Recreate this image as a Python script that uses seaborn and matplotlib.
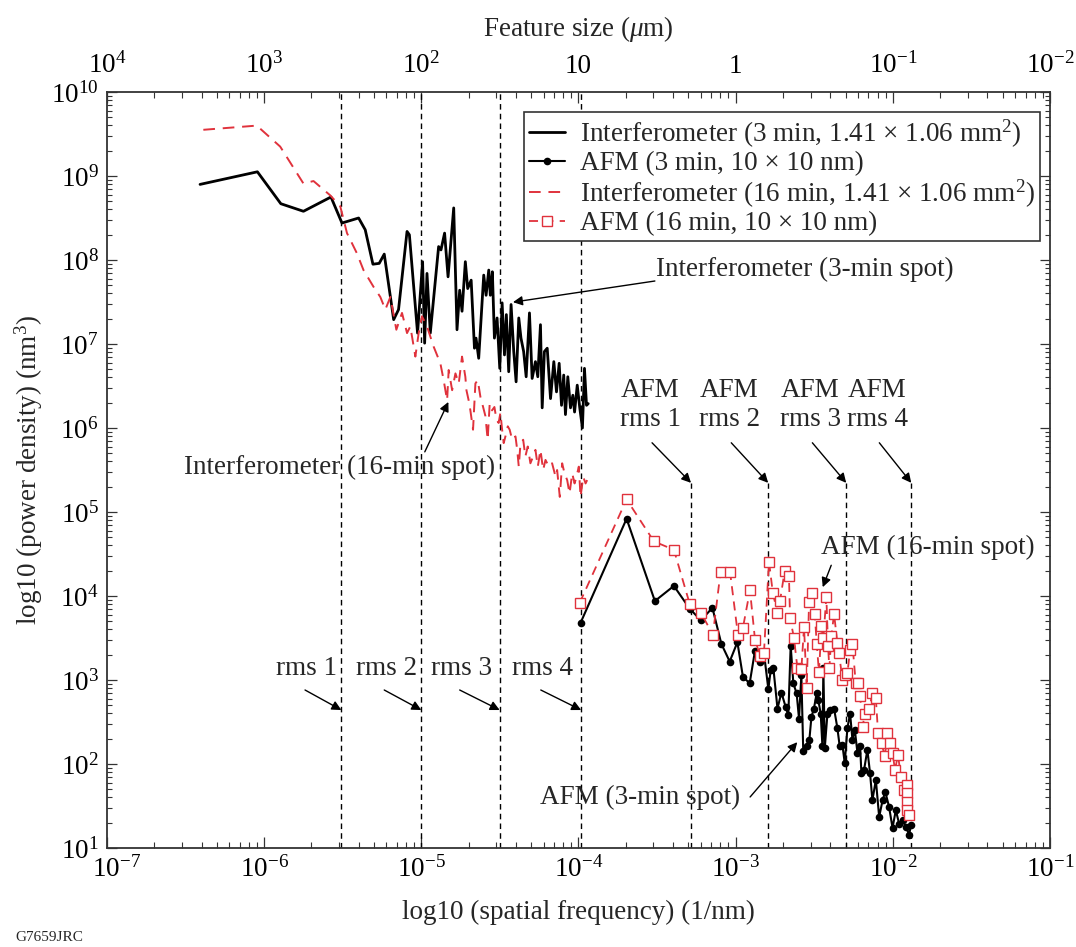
import numpy as np
import pandas as pd
import matplotlib
matplotlib.use("Agg")
import matplotlib.pyplot as plt
import matplotlib.transforms as mtransforms
import seaborn as sns
from matplotlib.ticker import (LogLocator, NullFormatter, NullLocator, FixedLocator,
                               LogFormatterMathtext)

# ---------------- data (log10 values) ----------------
interf3_logf = [-6.408, -6.043, -5.894, -5.750, -5.575, -5.505, -5.399, -5.357, -5.308, -5.268,
                -5.236, -5.176, -5.145, -5.091, -5.076, -5.024, -4.992, -4.979, -4.964, -4.943,
                -4.890, -4.875, -4.852, -4.830, -4.794, -4.773, -4.756, -4.741, -4.720, -4.705,
                -4.683, -4.662, -4.652, -4.635, -4.603, -4.588, -4.571, -4.561, -4.548, -4.535,
                -4.518, -4.501, -4.486, -4.471, -4.459, -4.444, -4.429, -4.412, -4.397, -4.380,
                -4.366, -4.349, -4.333, -4.312, -4.295, -4.274, -4.259, -4.242, -4.231, -4.217,
                -4.199, -4.178, -4.157, -4.140, -4.123, -4.108, -4.094, -4.083, -4.068, -4.051,
                -4.036, -4.025, -4.008, -3.992, -3.975, -3.962, -3.949, -3.938]
interf3_logp = [8.90, 9.05, 8.67, 8.58, 8.75, 8.44, 8.50, 8.36, 7.95, 7.96,
                8.07, 7.29, 7.41, 8.34, 8.30, 7.13, 7.98, 7.01, 7.84, 7.13,
                8.16, 8.12, 8.32, 7.80, 8.62, 7.17, 7.64, 7.39, 7.98, 7.66,
                7.76, 6.95, 7.07, 6.83, 7.82, 7.58, 7.88, 7.58, 7.86, 7.07,
                7.31, 6.71, 7.49, 6.87, 7.35, 6.67, 7.47, 6.91, 6.55, 7.31,
                7.07, 6.91, 6.61, 7.37, 6.59, 6.79, 6.61, 7.23, 6.24, 6.91,
                6.95, 6.35, 6.79, 6.43, 6.77, 6.27, 6.63, 6.16, 6.61, 6.24,
                6.39, 6.19, 6.51, 6.24, 6.00, 6.71, 6.27, 6.29]

interf16_logf = [-6.387, -6.047, -5.898, -5.750, -5.686, -5.580, -5.516, -5.473, -5.410, -5.368,
                 -5.304, -5.261, -5.229, -5.197, -5.159, -5.123, -5.091, -5.070, -5.038, -5.017,
                 -4.996, -4.964, -4.922, -4.879, -4.858, -4.836, -4.826, -4.804, -4.783, -4.762,
                 -4.741, -4.720, -4.713, -4.699, -4.688, -4.671, -4.656, -4.641, -4.624, -4.607,
                 -4.592, -4.578, -4.565, -4.550, -4.535, -4.522, -4.508, -4.497, -4.486, -4.476,
                 -4.465, -4.450, -4.438, -4.422, -4.401, -4.390, -4.380, -4.369, -4.352, -4.338,
                 -4.323, -4.306, -4.289, -4.274, -4.259, -4.242, -4.225, -4.210, -4.189, -4.168,
                 -4.146, -4.136, -4.119, -4.104, -4.089, -4.072, -4.057, -4.040, -4.025, -4.013,
                 -3.998, -3.987, -3.970, -3.955, -3.945]
interf16_logp = [9.55, 9.60, 9.35, 8.91, 8.94, 8.77, 8.64, 8.32, 8.08, 7.88,
                 7.68, 7.56, 7.41, 7.56, 7.17, 7.37, 7.13, 7.21, 6.85, 7.13,
                 7.33, 7.21, 6.97, 6.77, 6.57, 6.33, 6.69, 6.45, 6.65, 6.53,
                 6.85, 6.61, 6.45, 6.33, 6.21, 5.98, 6.53, 6.57, 6.37, 6.25,
                 6.14, 5.86, 6.29, 6.21, 6.25, 6.10, 6.06, 6.18, 5.98, 5.82,
                 5.90, 6.02, 5.98, 5.86, 5.90, 5.74, 5.54, 5.82, 5.86, 5.66,
                 5.78, 5.58, 5.66, 5.74, 5.54, 5.74, 5.50, 5.62, 5.54, 5.58,
                 5.42, 5.50, 5.18, 5.58, 5.46, 5.38, 5.22, 5.46, 5.34, 5.42,
                 5.54, 5.18, 5.42, 5.34, 5.38]

afm3_logf = [-3.987, -3.694, -3.514, -3.393, -3.293, -3.221, -3.148, -3.091, -3.038, -2.989,
             -2.954, -2.911, -2.877, -2.845, -2.820, -2.792, -2.777, -2.760, -2.734, -2.709,
             -2.682, -2.665, -2.650, -2.633, -2.612, -2.597, -2.582, -2.570, -2.549, -2.531,
             -2.518, -2.502, -2.484, -2.474, -2.459, -2.448, -2.442, -2.433, -2.416, -2.399,
             -2.374, -2.353, -2.338, -2.321, -2.306, -2.289, -2.272, -2.257, -2.242, -2.225,
             -2.208, -2.200, -2.183, -2.162, -2.145, -2.130, -2.108, -2.087, -2.065, -2.048,
             -2.024, -2.002, -1.981, -1.960, -1.938, -1.917, -1.896, -1.885]
afm3_logp = [3.68, 4.92, 3.94, 4.12, 3.85, 3.71, 3.86, 3.43, 3.22, 3.45,
             3.04, 2.96, 3.35, 3.22, 3.32, 2.89, 3.12, 3.14, 2.66, 2.85,
             2.68, 2.58, 3.41, 2.96, 2.84, 2.54, 3.06, 2.15, 2.21, 2.29,
             2.56, 2.66, 2.85, 2.76, 2.60, 2.21, 3.14, 2.19, 2.60, 2.64,
             2.66, 2.43, 2.21, 2.23, 2.01, 2.43, 2.60, 2.29, 2.41, 2.13,
             2.21, 1.89, 1.93, 2.17, 1.89, 1.57, 1.81, 1.37, 1.57, 1.67,
             1.49, 1.24, 1.45, 1.29, 1.33, 1.25, 1.16, 1.27]

afm16_logf = [-3.992, -3.694, -3.520, -3.393, -3.293, -3.221, -3.145, -3.096, -3.036, -2.985,
              -2.954, -2.909, -2.877, -2.845, -2.820, -2.788, -2.763, -2.734, -2.718, -2.688,
              -2.661, -2.654, -2.629, -2.607, -2.582, -2.565, -2.548, -2.533, -2.512, -2.497,
              -2.484, -2.470, -2.454, -2.442, -2.423, -2.412, -2.404, -2.391, -2.374, -2.353,
              -2.342, -2.321, -2.306, -2.289, -2.272, -2.257, -2.236, -2.221, -2.208, -2.193,
              -2.178, -2.150, -2.130, -2.108, -2.094, -2.072, -2.051, -2.034, -2.017, -2.002,
              -1.986, -1.967, -1.949, -1.928, -1.907, -1.911, -1.907, -1.913, -1.896]
afm16_logp = [3.92, 5.15, 4.65, 4.55, 3.91, 3.80, 3.54, 4.29, 4.29, 3.53,
              3.62, 4.07, 3.48, 3.29, 3.32, 4.41, 4.03, 3.80, 3.94, 4.30,
              4.24, 3.74, 3.50, 3.14, 3.13, 3.63, 2.90, 3.93, 4.03, 3.79,
              3.43, 3.09, 3.64, 3.50, 3.99, 3.40, 3.14, 3.52, 3.79, 3.44,
              3.32, 3.00, 3.06, 3.08, 3.36, 3.43, 2.96, 2.96, 2.81, 2.44,
              2.60, 2.65, 2.85, 2.78, 2.37, 2.25, 2.09, 2.37, 2.25, 2.13,
              1.93, 2.11, 1.85, 1.69, 1.75, 1.65, 1.55, 1.45, 1.39]

rms_interf_freq = [3.1e-6, 1.0e-5, 3.15e-5, 1.04e-4]
rms_afm_freq = [5.2e-4, 1.61e-3, 5.05e-3, 1.31e-2]

series_labels = ["Interferometer (3 min, 1.41 \u00d7 1.06 mm$^2$)",
                 "AFM (3 min, 10 \u00d7 10 nm)",
                 "Interferometer (16 min, 1.41 \u00d7 1.06 mm$^2$)",
                 "AFM (16 min, 10 \u00d7 10 nm)"]
x_major_ticks = [1e-7, 1e-6, 1e-5, 1e-4, 1e-3, 1e-2, 1e-1]
y_major_ticks = [1e1, 1e2, 1e3, 1e4, 1e5, 1e6, 1e7, 1e8, 1e9, 1e10]
top_tick_labels = ["$10^4$", "$10^3$", "$10^2$", "10", "1", "$10^{-1}$", "$10^{-2}$"]

# ---------------- style ----------------
sns.set_style("ticks")
plt.rcParams.update({
    "font.family": ["Liberation Serif", "DejaVu Serif"],
    "mathtext.fontset": "custom",
    "mathtext.rm": "Liberation Serif",
    "mathtext.it": "Liberation Serif:italic",
    "mathtext.bf": "Liberation Serif:bold",
    "axes.edgecolor": "#333333",
    "axes.linewidth": 1.3,
    "xtick.color": "#333333",
    "ytick.color": "#333333",
    "xtick.labelcolor": "black",
    "ytick.labelcolor": "black",
})

FS = 19.5
RED = "#e0323c"
W, H = 1076, 947
fig = plt.figure(figsize=(W / 100, H / 100), dpi=100)
ax = fig.add_axes([107 / W, 1 - 848 / H, 943 / W, 756 / H])
ax.set_xscale("log")
ax.set_yscale("log")


def frame(logf, logp):
    return pd.DataFrame({"freq": 10 ** np.array(logf), "power": 10 ** np.array(logp)})


# vertical dashed rms lines
for f in rms_interf_freq:
    ax.axvline(f, 0, 1, color="black", lw=1.0, ls=(0, (4, 3)), zorder=1)
for f in rms_afm_freq:
    ax.axvline(f, 0, 0.483, color="black", lw=1.0, ls=(0, (4, 3)), zorder=1)

handles = []
sns.lineplot(data=frame(interf3_logf, interf3_logp), x="freq", y="power", ax=ax,
             color="black", lw=2.0, sort=False, estimator=None, zorder=3)
handles.append(ax.lines[-1])
sns.lineplot(data=frame(afm3_logf, afm3_logp), x="freq", y="power", ax=ax,
             color="black", lw=1.5, marker="o", markersize=5.5, markeredgewidth=0,
             sort=False, estimator=None, zorder=3)
handles.append(ax.lines[-1])
sns.lineplot(data=frame(interf16_logf, interf16_logp), x="freq", y="power", ax=ax,
             color=RED, lw=1.4, linestyle=(0, (6, 4)), sort=False, estimator=None, zorder=4)
handles.append(ax.lines[-1])
sns.lineplot(data=frame(afm16_logf, afm16_logp), x="freq", y="power", ax=ax,
             color=RED, lw=1.3, linestyle=(0, (5, 3.5)), marker="s", markersize=7,
             markerfacecolor="white", markeredgecolor=RED, markeredgewidth=1.0,
             sort=False, estimator=None, zorder=4)
handles.append(ax.lines[-1])

ax.set_xlim(1e-7, 1e-1)
ax.set_ylim(1e1, 1e10)

# ticks (only in-range major ticks, so no hidden labels)
ax.xaxis.set_major_locator(FixedLocator(x_major_ticks))
ax.xaxis.set_minor_locator(LogLocator(base=10, subs=np.arange(2, 10), numticks=20))
ax.xaxis.set_minor_formatter(NullFormatter())
ax.yaxis.set_major_locator(FixedLocator(y_major_ticks))
ax.yaxis.set_minor_locator(LogLocator(base=10, subs=np.arange(2, 10), numticks=20))
ax.yaxis.set_minor_formatter(NullFormatter())
ax.xaxis.set_major_formatter(LogFormatterMathtext())
ax.yaxis.set_major_formatter(LogFormatterMathtext())
ax.tick_params(axis="x", which="major", direction="in", length=8, width=0.9,
               top=True, bottom=True, labelsize=FS, pad=6)
ax.tick_params(axis="x", which="minor", direction="in", length=4, width=0.8, top=True, bottom=True)
ax.tick_params(axis="y", which="major", direction="in", length=7, width=0.9,
               left=True, right=True, labelsize=FS, pad=6)
ax.tick_params(axis="y", which="minor", direction="in", length=3.5, width=0.8, left=True, right=True)

secax = ax.secondary_xaxis("top")
secax.xaxis.set_major_locator(FixedLocator(x_major_ticks))
secax.set_xticklabels(top_tick_labels)
secax.xaxis.set_minor_locator(NullLocator())
secax.tick_params(axis="x", which="both", length=0, labelsize=FS, pad=9.5)
secax.spines["top"].set_visible(False)
secax.set_xlabel("Feature size ($\\mu$m)", fontsize=FS, labelpad=12)

ax.set_xlabel("log10 (spatial frequency) (1/nm)", fontsize=FS, labelpad=12)
ax.set_ylabel("log10 (power density) (nm$^3$)", fontsize=FS, labelpad=4)

leg = ax.legend(handles, series_labels, loc="upper right", bbox_to_anchor=(0.9894, 0.9735),
                borderaxespad=0, frameon=True, fancybox=False, framealpha=1,
                edgecolor="#333333", fontsize=FS, handlelength=1.3, handletextpad=0.55,
                borderpad=0.2, labelspacing=0.05)
leg.get_frame().set_linewidth(1.2)
leg.set_zorder(10)

# annotations
arrow = dict(arrowstyle="-|>", color="black", lw=1.0, mutation_scale=14, shrinkA=0, shrinkB=0)
ax.text(0.740, 0.765, "Interferometer (3-min spot)", transform=ax.transAxes,
        ha="center", va="center", fontsize=FS)
ax.annotate("", xy=(0.4305, 0.722), xytext=(0.581, 0.750), xycoords="axes fraction",
            textcoords="axes fraction", arrowprops=arrow)
ax.text(0.247, 0.504, "Interferometer (16-min spot)", transform=ax.transAxes,
        ha="center", va="center", fontsize=FS)
ax.annotate("", xy=(0.362, 0.590), xytext=(0.337, 0.524), xycoords="axes fraction",
            textcoords="axes fraction", arrowprops=arrow)

afm_text_x = [0.576, 0.660, 0.746, 0.817]
for i, (f, tx) in enumerate(zip(rms_afm_freq, afm_text_x)):
    ax.text(tx, 0.586, f"AFM\nrms {i + 1}", transform=ax.transAxes, ha="center",
            va="center", fontsize=FS, linespacing=1.25)
    ax.annotate("", xy=(f, 0.483), xytext=(tx + 0.002, 0.536),
                xycoords=("data", "axes fraction"), textcoords="axes fraction",
                arrowprops=arrow)

rms_text_x = [0.212, 0.296, 0.376, 0.462]
for i, (f, tx) in enumerate(zip(rms_interf_freq, rms_text_x)):
    ax.text(tx, 0.238, f"rms {i + 1}", transform=ax.transAxes, ha="center",
            va="center", fontsize=FS)
    ax.annotate("", xy=(f, 0.1825), xytext=(tx - 0.002, 0.209),
                xycoords=("data", "axes fraction"), textcoords="axes fraction",
                arrowprops=arrow)

ax.text(0.8706, 0.398, "AFM (16-min spot)", transform=ax.transAxes,
        ha="center", va="center", fontsize=FS)
ax.annotate("", xy=(0.759, 0.345), xytext=(0.768, 0.374), xycoords="axes fraction",
            textcoords="axes fraction", arrowprops=arrow)
ax.text(0.565, 0.0675, "AFM (3-min spot)", transform=ax.transAxes,
        ha="center", va="center", fontsize=FS)
ax.annotate("", xy=(0.732, 0.140), xytext=(0.682, 0.0675), xycoords="axes fraction",
            textcoords="axes fraction", arrowprops=arrow)

fig.text(15 / W, 1 - 937 / H, "G7659JRC", fontsize=11, va="center", ha="left")

# nudge the first bottom tick label to the right, as in the reference
fig.canvas.draw()
shift = mtransforms.ScaledTranslation(10 / 100, 0, fig.dpi_scale_trans)
for tick in ax.xaxis.get_major_ticks():
    if np.isclose(tick.get_loc(), 1e-7):
        tick.label1.set_transform(tick.label1.get_transform() + shift)

fig.savefig("out.png", dpi=100)
